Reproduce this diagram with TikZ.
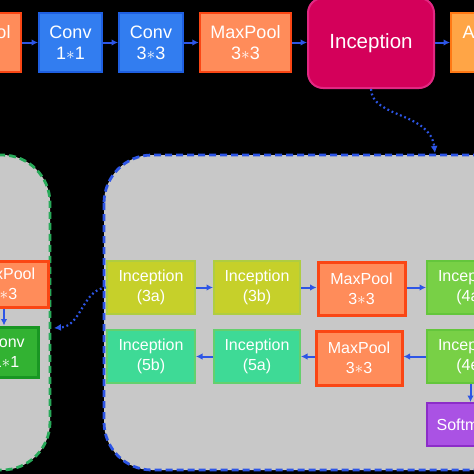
\documentclass[tikz,border=0pt]{standalone}
\usepackage{fontspec}
\setmainfont{Liberation Sans}
\usetikzlibrary{arrows.meta}
\definecolor{bgblack}{RGB}{0,0,0}
\definecolor{convblue}{RGB}{50,125,240}
\definecolor{convblueb}{RGB}{30,95,225}
\definecolor{poolfill}{RGB}{255,140,90}
\definecolor{poolborder}{RGB}{250,70,20}
\definecolor{incfill}{RGB}{212,0,90}
\definecolor{incborder}{RGB}{225,40,130}
\definecolor{avgfill}{RGB}{255,165,70}
\definecolor{avgborder}{RGB}{255,120,20}
\definecolor{panelgray}{RGB}{200,200,200}
\definecolor{arrowblue}{RGB}{45,85,230}
\definecolor{dashgreen}{RGB}{40,170,90}
\definecolor{ythree}{RGB}{198,208,42}
\definecolor{ythreeb}{RGB}{175,205,65}
\definecolor{gfour}{RGB}{120,208,70}
\definecolor{gfourb}{RGB}{100,198,60}
\definecolor{tfive}{RGB}{62,218,150}
\definecolor{tfiveb}{RGB}{100,208,110}
\definecolor{convgreen}{RGB}{50,178,50}
\definecolor{convgreenb}{RGB}{25,150,35}
\definecolor{softfill}{RGB}{170,82,228}
\definecolor{softborder}{RGB}{140,45,200}
\tikzset{
  blk/.style={draw, line width=2pt, text=white, align=center, inner sep=0pt,
    font=\fontsize{18}{21}\selectfont},
  sblk/.style={blk, font=\fontsize{16}{20}\selectfont},
  convbox/.style={blk, fill=convblue, draw=convblueb, minimum width=63pt, minimum height=59pt},
  poolbox/.style={blk, fill=poolfill, draw=poolborder, line width=2.5pt, minimum width=91pt, minimum height=59pt},
  spoolbox/.style={sblk, fill=poolfill, draw=poolborder, line width=3pt},
  incthree/.style={sblk, fill=ythree, draw=ythreeb, minimum width=88pt, minimum height=53pt},
  incfour/.style={sblk, fill=gfour, draw=gfourb, minimum width=87pt, minimum height=53pt},
  incfive/.style={sblk, fill=tfive, draw=tfiveb, minimum width=88pt, minimum height=53pt},
  arr/.style={draw=arrowblue, line width=2pt, -{Latex[length=6.5pt,width=6.5pt]}},
  dotarr/.style={draw=arrowblue, line width=2.2pt, dash pattern=on 1.8pt off 2.8pt, -{Latex[length=7pt,width=7pt]}},
}
\begin{document}
\begin{tikzpicture}[x=1pt,y=-1pt]
\useasboundingbox (0,0) rectangle (474,474);
\clip (0,0) rectangle (474,474);
\fill[bgblack] (0,0) rectangle (474,474);

% top row
\node[poolbox] (mp0) at (-24.5,42.5) {MaxPool\\3$\ast$3};
\node[convbox] (conv1) at (70.5,42.5) {Conv\\1$\ast$1};
\node[convbox, minimum width=64pt] (conv3) at (151,42.5) {Conv\\3$\ast$3};
\node[poolbox] (mp1) at (245.5,42.5) {MaxPool\\3$\ast$3};
\node[blk, fill=incfill, draw=incborder, rounded corners=15pt, minimum width=126pt, minimum height=90pt,
      font=\fontsize{20.5}{24}\selectfont] (inc) at (371,43) {Inception};
\node[blk, fill=avgfill, draw=avgborder, minimum width=90pt, minimum height=59pt] (avg) at (496,42.5) {AvgPool\\7$\ast$7};

\draw[arr] (mp0) -- (conv1);
\draw[arr] (conv1) -- (conv3);
\draw[arr] (conv3) -- (mp1);
\draw[arr] (mp1) -- (inc.west |- mp1.east);
\draw[arr] (inc.east |- avg.west) -- (avg);

% panels
\draw[draw=dashgreen, fill=panelgray, line width=2.8pt, dash pattern=on 7pt off 4pt, rounded corners=48pt]
  (-100,155) rectangle (50,470);
\draw[draw=arrowblue, fill=panelgray, line width=2.8pt, dash pattern=on 7pt off 4pt, rounded corners=48pt]
  (104,155) rectangle (560,470);

% left panel content
\node[spoolbox, minimum width=88pt, minimum height=46pt] (mpL) at (4,284) {MaxPool\\3$\ast$3};
\node[sblk, fill=convgreen, draw=convgreenb, line width=3pt, minimum width=64pt, minimum height=50pt] (convL) at (6,352) {Conv\\1$\ast$1};
\draw[arr] (mpL.south) -- (mpL.south |- convL.north);

% right panel content
\node[incthree] (i3a) at (151,287.5) {Inception\\(3a)};
\node[incthree, minimum width=86pt] (i3b) at (257,287.5) {Inception\\(3b)};
\node[spoolbox, minimum width=87pt, minimum height=53pt] (mpA) at (361.5,288.5) {MaxPool\\3$\ast$3};
\node[incfour] (i4a) at (470.5,287.5) {Inception\\(4a)};
\node[incfive] (i5b) at (151,356.5) {Inception\\(5b)};
\node[incfive, minimum width=86pt] (i5a) at (257,356.5) {Inception\\(5a)};
\node[spoolbox, minimum width=86pt, minimum height=54pt] (mpB) at (359,358) {MaxPool\\3$\ast$3};
\node[incfour] (i4e) at (470.5,356.5) {Inception\\(4e)};
\node[sblk, fill=softfill, draw=softborder, minimum width=78pt, minimum height=43pt] (soft) at (466,424.5) {Softmax};

\draw[arr] (i3a) -- (i3b);
\draw[arr] (i3b) -- (mpA.west |- i3b.east);
\draw[arr] (mpA.east |- i4a.west) -- (i4a);
\draw[arr] (i4e.west) -- (mpB.east |- i4e.west);
\draw[arr] (mpB.west |- i5a.east) -- (i5a);
\draw[arr] (i5a) -- (i5b);
\draw[arr] (i4e.south) -- (i4e.south |- soft.north);

% dotted connectors
\coordinate (tipL) at (54,328);
\draw[dotarr] (i3a.west) .. controls (82,290) and (82,326) .. (tipL);
\coordinate (tipT) at (435,153);
\draw[dotarr] (inc.south) .. controls (372,118) and (430,112) .. (tipT);
\end{tikzpicture}
\end{document}
